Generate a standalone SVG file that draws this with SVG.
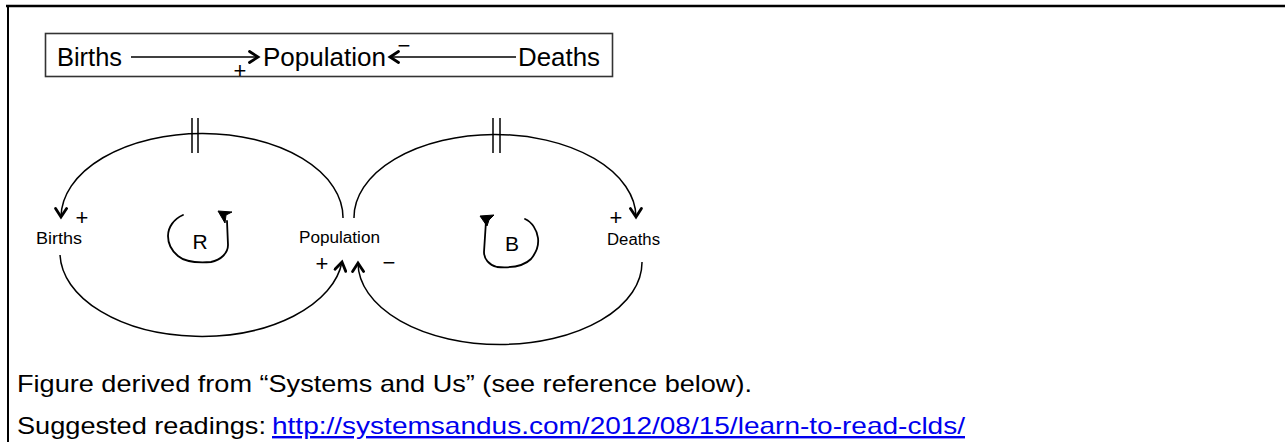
<svg xmlns="http://www.w3.org/2000/svg" width="1285" height="442" viewBox="0 0 1285 442">
<style>
.t{font-family:"Liberation Sans",Arial,sans-serif;fill:#000}
.big{font-size:25px}
.sm{font-size:16px}
.foot{font-size:24px}
.pm{font-size:22px}
.ln{fill:none;stroke:#000;stroke-width:1.5}
.hl{fill:none;stroke:#000;stroke-width:1.8;stroke-linecap:round;stroke-linejoin:round}
</style>
<defs>
<marker id="chev" markerWidth="14" markerHeight="14" refX="11" refY="7" orient="auto" markerUnits="userSpaceOnUse" viewBox="0 0 14 14">
<path d="M2.5,1.5 L11,7 L2.5,12.5" fill="none" stroke="#000" stroke-width="2.8" stroke-linecap="round" stroke-linejoin="miter"/>
</marker>
</defs>
<rect width="1285" height="442" fill="#fff"/>
<g id="frame">
<line x1="6" y1="6" x2="1285" y2="6" stroke="#000" stroke-width="2.5"/>
<line x1="8" y1="5" x2="8" y2="442" stroke="#000" stroke-width="2"/>
<rect x="45.5" y="33.5" width="567" height="43" fill="#fff" stroke="#333" stroke-width="1.6"/>
</g>
<g id="legend-births"><text class="t big" x="57" y="66" textLength="65" lengthAdjust="spacingAndGlyphs">Births</text></g>
<g id="legend-population"><text class="t big" x="263" y="66" textLength="123" lengthAdjust="spacingAndGlyphs">Population</text></g>
<g id="legend-deaths"><text class="t big" x="518" y="66" textLength="82" lengthAdjust="spacingAndGlyphs">Deaths</text></g>
<g id="node-births"><text class="t sm" x="36" y="244" textLength="46" lengthAdjust="spacingAndGlyphs">Births</text></g>
<g id="node-population"><text class="t sm" x="299" y="243" textLength="81" lengthAdjust="spacingAndGlyphs">Population</text></g>
<g id="node-deaths"><text class="t sm" x="607" y="245" textLength="53" lengthAdjust="spacingAndGlyphs">Deaths</text></g>
<g id="loop-R">
<path class="hl" d="M183,215 C174,219 168,227 168,236 C168,245 172,251 178,256 C185,262 198,263 211,262 C221,260 228,253 228,245 L227,221"/>
<polygon points="218,211 232,212 226,215 225,223" fill="#000" stroke="#000" stroke-width="1"/>
<text class="t" style="font-size:21px" x="200" y="249" text-anchor="middle">R</text>
</g>
<g id="loop-B">
<path class="hl" d="M525,219 C532,222 537,230 538,238 C539,246 536,253 531,259 C524,266 510,268 497,267 C489,265 484,259 484,252 L486,221"/>
<polygon points="480,216 494,215 489,220 487,226" fill="#000" stroke="#000" stroke-width="1"/>
<text class="t" style="font-size:21px" x="512" y="251" text-anchor="middle">B</text>
</g>
<g id="connectors">
<line class="ln" x1="131" y1="57" x2="258" y2="57" marker-end="url(#chev)"/>
<line class="ln" x1="516" y1="57" x2="390" y2="57" marker-end="url(#chev)"/>
<path class="ln" d="M343,218 A141,84 0 0 0 61,217" marker-end="url(#chev)"/>
<path class="ln" d="M60,255 A141.5,84 0 0 0 342,262" marker-end="url(#chev)"/>
<path class="ln" d="M354,218 A141,83 0 0 1 636,217" marker-end="url(#chev)"/>
<path class="ln" d="M642,262 A142,82 0 0 1 358,263" marker-end="url(#chev)"/>
<line x1="192" y1="118" x2="192" y2="153" stroke="#000" stroke-width="1.5"/>
<line x1="198" y1="118" x2="198" y2="153" stroke="#000" stroke-width="1.5"/>
<line x1="493" y1="118" x2="493" y2="153" stroke="#000" stroke-width="1.5"/>
<line x1="500" y1="118" x2="500" y2="153" stroke="#000" stroke-width="1.5"/>
</g>
<g id="polarities">
<text class="t pm" x="240" y="78" text-anchor="middle">+</text>
<text class="t pm" x="404" y="53" text-anchor="middle">−</text>
<text class="t pm" x="82" y="225" text-anchor="middle">+</text>
<text class="t pm" x="322" y="271" text-anchor="middle">+</text>
<text class="t pm" x="389" y="270" text-anchor="middle">−</text>
<text class="t pm" x="616" y="225" text-anchor="middle">+</text>
</g>
<g id="caption">
<text class="t foot" x="17" y="392" textLength="735" lengthAdjust="spacingAndGlyphs">Figure derived from “Systems and Us” (see reference below).</text>
<text class="t foot" x="17" y="434" textLength="249" lengthAdjust="spacingAndGlyphs">Suggested readings:</text>
<text class="t foot" x="272" y="434" textLength="693" lengthAdjust="spacingAndGlyphs" style="fill:#0000ee" text-decoration="underline">http://systemsandus.com/2012/08/15/learn-to-read-clds/</text>
</g>
</svg>
